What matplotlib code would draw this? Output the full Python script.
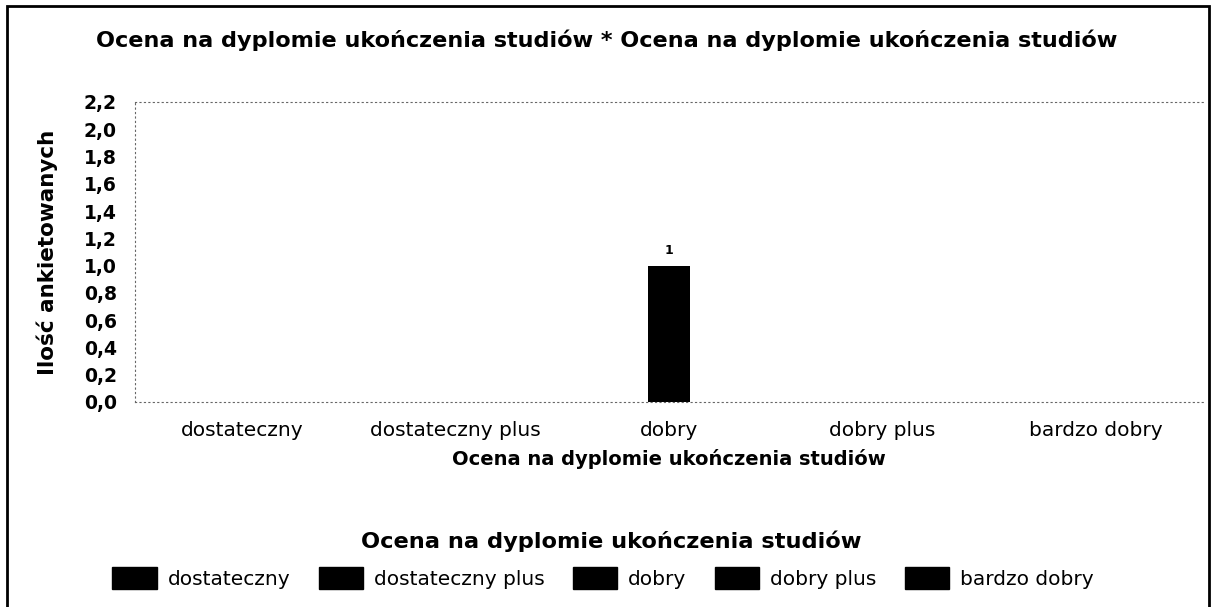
import matplotlib
matplotlib.use("Agg")
import matplotlib.pyplot as plt
from matplotlib.patches import Patch, Rectangle
from matplotlib.ticker import FuncFormatter
import numpy as np

# ==== DATA ====
categories = ["dostateczny", "dostateczny plus", "dobry", "dobry plus", "bardzo dobry"]
counts = [0, 0, 1, 0, 0]
yticks = [0.0, 0.2, 0.4, 0.6, 0.8, 1.0, 1.2, 1.4, 1.6, 1.8, 2.0, 2.2]

title = "Ocena na dyplomie ukończenia studiów * Ocena na dyplomie ukończenia studiów"
xlabel = "Ocena na dyplomie ukończenia studiów"
ylabel = "Ilość ankietowanych"
legend_title = "Ocena na dyplomie ukończenia studiów"

plt.rcParams['font.family'] = ['DejaVu Sans']

W, H = 1213, 607
fig = plt.figure(figsize=(W / 100, H / 100), dpi=100)
ax = fig.add_axes([135 / W, 1 - 402 / H, 1068 / W, 300 / H])

x = np.arange(len(categories))
bars = ax.bar(x, counts, width=0.2, color="black")
ax.bar_label(bars, labels=["" if c == 0 else str(c) for c in counts],
             padding=6, fontsize=9, fontweight="bold")

ax.set_xlim(-0.5, len(categories) - 0.5)
ax.set_ylim(0, 2.2)
ax.set_yticks(yticks)
ax.yaxis.set_major_formatter(FuncFormatter(lambda v, p: f"{v:.1f}".replace(".", ",")))
ax.set_xticks(x)
ax.set_xticklabels(categories, fontsize=14.5)
for t in ax.get_yticklabels():
    t.set_fontweight("bold")
    t.set_fontsize(13.5)
ax.tick_params(length=0)
ax.tick_params(axis="y", pad=13)
ax.tick_params(axis="x", pad=14)

for s in ["top", "left", "bottom"]:
    ax.spines[s].set_linestyle((0, (1, 3)))
    ax.spines[s].set_color("#666666")
    ax.spines[s].set_linewidth(0.8)
ax.spines["right"].set_visible(False)

ax.set_xlabel(xlabel, fontsize=14, fontweight="bold", labelpad=6)
ax.set_ylabel(ylabel, fontsize=15.5, fontweight="bold", labelpad=19)

fig.text(0.5, 1 - 40 / H, title, ha="center", va="center",
         fontsize=16.1, fontweight="bold")

# legend title is centred on the page, entries below it
fig.text(611 / W, 1 - 541 / H, legend_title, ha="center", va="center",
         fontsize=16.2, fontweight="bold")
handles = [Patch(facecolor="black", edgecolor="black") for _ in categories]
fig.legend(handles, categories, loc="center", ncol=5,
           bbox_to_anchor=(603 / W, 1 - 578 / H), frameon=False,
           fontsize=14.5, handlelength=2.2, handleheight=1.25,
           columnspacing=1.4, handletextpad=0.55,
           borderpad=0, borderaxespad=0)

# outer frame of the scanned chart
fig.patches.append(Rectangle((7 / W, -0.05), 1202 / W, 1.05 - 6 / H,
                             transform=fig.transFigure, fill=False,
                             edgecolor="black", linewidth=2))

fig.savefig("out.png", dpi=100)
